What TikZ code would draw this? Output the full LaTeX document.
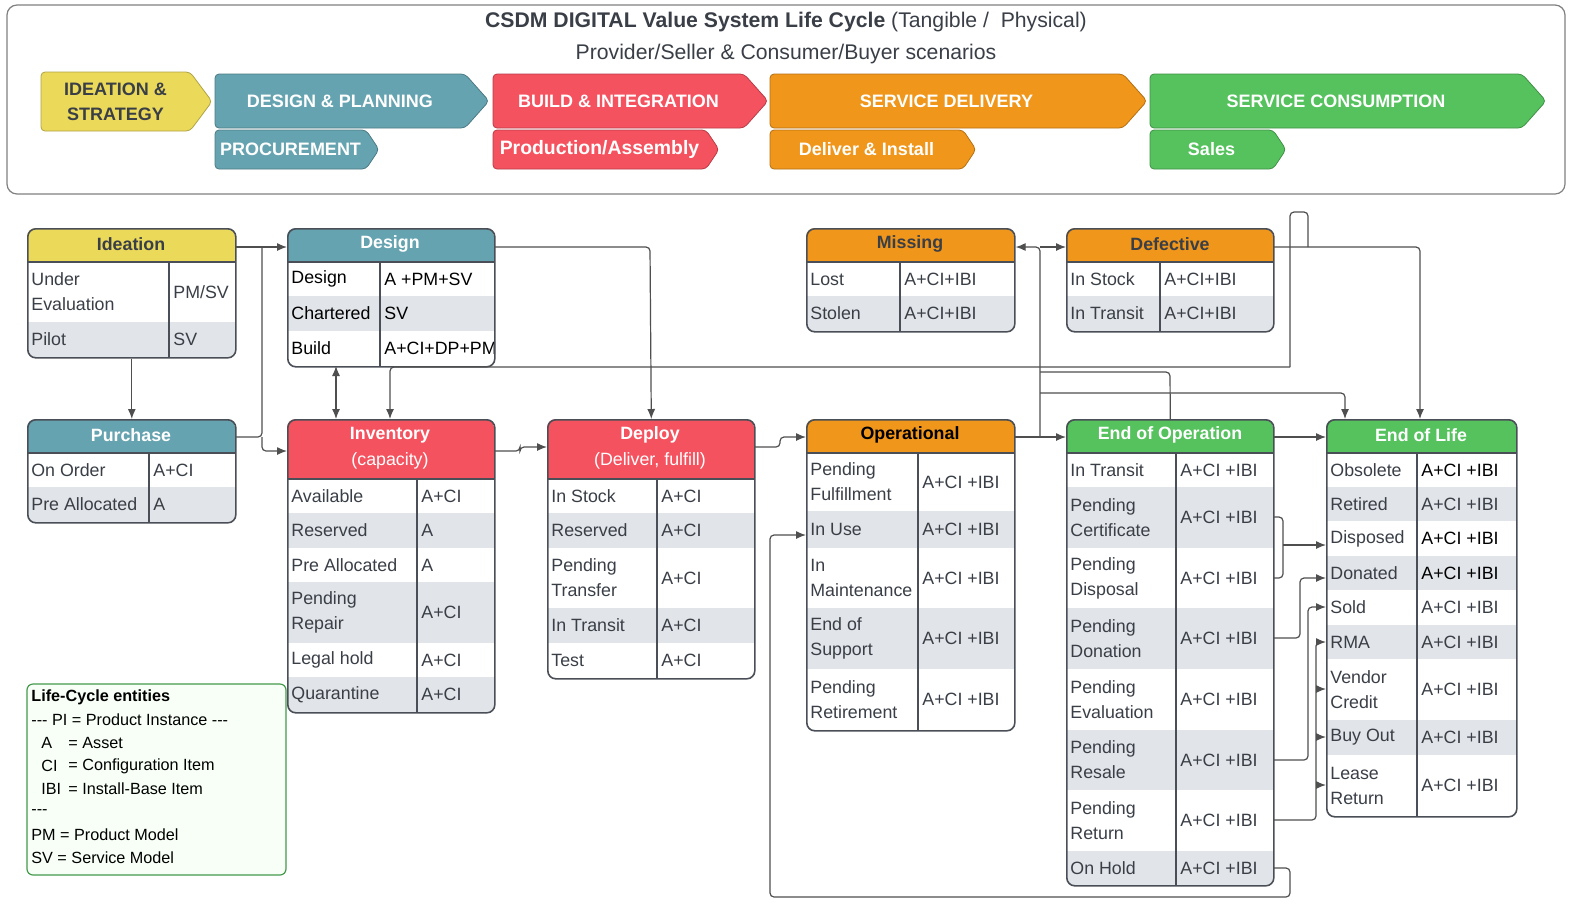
\documentclass[tikz,border=0pt]{standalone}
\usepackage{fontspec}
\setmainfont{Liberation Sans}
\usetikzlibrary{arrows.meta}
\definecolor{yel}{HTML}{EBD95A}
\definecolor{teal}{HTML}{66A3B0}
\definecolor{redc}{HTML}{F5525F}
\definecolor{orc}{HTML}{F0961A}
\definecolor{grn}{HTML}{55C25E}
\definecolor{rowg}{HTML}{E1E4E8}
\definecolor{frm}{HTML}{4A4F57}
\definecolor{txt}{HTML}{3A3F47}
\definecolor{lnc}{HTML}{4F4F4F}
\tikzset{
 cell/.style={font=\fontsize{8.9}{12.5}\selectfont, text=txt, inner sep=0pt, align=left},
 hdr/.style={font=\fontsize{8.9}{10}\selectfont\bfseries, inner sep=0pt, align=center},
 conn/.style={draw=lnc, line width=0.6pt, rounded corners=2pt},
 arr/.style={conn, -{Latex[length=5pt,width=4pt]}},
 chevtext/.style={font=\fontsize{9}{12.5}\selectfont\bfseries, text=white, inner sep=0pt, align=center},
}
\newcommand\hdrT[5]{\fill[#5, rounded corners=4pt] (#1,#2) rectangle (#3,#4+10);}
\newcommand\rowT[8]{\fill[#8] (#1,#4) rectangle (#2,#5);
 \node[cell, anchor=west] at (#1+4,{(#4+#5)/2}) {#6};
 \node[cell, anchor=west] at (#3+4,{(#4+#5)/2}) {#7};}
\newcommand\finT[7]{
 \fill[white, even odd rule] (#2-1,#3-1) rectangle (#4+1,#5+1) [rounded corners=4pt] (#2,#3) rectangle (#4,#5);
 \draw[frm, line width=0.7pt] (#2,#6) -- (#4,#6);
 \draw[frm, line width=0.7pt] (#7,#6) -- (#7,#5);
 \node[draw=frm, line width=0.8pt, rounded corners=4pt, inner sep=0pt, anchor=north west,
   minimum width={(#4-#2)*0.5pt}, minimum height={(#5-#3)*0.5pt}] (#1) at (#2,#3) {};}
\newcommand\chev[9]{
 \fill[#7, draw=#7!75!black, line width=0.4pt, rounded corners=2pt] (#2,#3) -- (#4-#6,#3) -- (#4,{(#3+#5)/2}) -- (#4-#6,#5) -- (#2,#5) -- cycle;
 \node[chevtext, text=#9] (#1) at ({(#2+#4-#6)/2},{(#3+#5)/2}) {#8};}
\begin{document}
\begin{tikzpicture}[x=0.5pt,y=-0.5pt]
\useasboundingbox (0,0) rectangle (1592,918);
\fill[white] (0,0) rectangle (1592,918);
% top panel
\draw[gray, line width=0.6pt, rounded corners=5pt] (7,5) rectangle (1565,194);
\node[font=\fontsize{10.6}{12}\selectfont, text=txt] (title) at (786,22) {\textbf{CSDM DIGITAL Value System Life Cycle} (Tangible /~~Physical)};
\node[font=\fontsize{10.6}{12}\selectfont, text=txt] (sub) at (786,54) {Provider/Seller \& Consumer/Buyer scenarios};
\chev{c1}{41}{72}{212}{131}{22}{yel}{IDEATION \&\\STRATEGY}{txt}
\chev{c2}{215}{74}{489}{128}{24}{teal}{DESIGN \& PLANNING}{white}
\chev{c3}{215}{130}{379}{169}{13}{teal}{PROCUREMENT}{white}
\chev{c4}{493}{74}{768}{128}{24}{redc}{BUILD \& INTEGRATION}{white}
\chev{c5}{493}{130}{719}{169}{13}{redc}{\fontsize{9.7}{12}\selectfont Production/Assembly}{white}
\chev{c6}{770}{74}{1147}{128}{24}{orc}{SERVICE DELIVERY}{white}
\chev{c7}{770}{130}{976}{169}{13}{orc}{Deliver \& Install}{white}
\chev{c8}{1150}{74}{1546}{128}{24}{grn}{SERVICE CONSUMPTION}{white}
\chev{c9}{1150}{130}{1286}{169}{13}{grn}{Sales}{white}

% Ideation
\hdrT{27}{228}{235}{262}{yel}
\rowT{27}{235}{169}{262}{322}{Under\\Evaluation}{PM/SV}{white}
\rowT{27}{235}{169}{322}{357}{Pilot}{SV}{rowg}
\finT{ideation}{27}{228}{235}{357}{262}{169}
\node[hdr, text=txt] at (131,244) {Ideation};
% Design
\hdrT{287}{228}{494}{262}{teal}
\rowT{287}{494}{380}{262}{296}{\color{black}Design}{\color{black}A +PM+SV}{white}
\rowT{287}{494}{380}{296}{331}{\color{black}Chartered}{\color{black}SV}{rowg}
\rowT{287}{494}{380}{331}{366}{\color{black}Build}{\color{black}A+CI+DP+PM}{white}
\finT{design}{287}{228}{494}{366}{262}{380}
\node[hdr, text=white] at (390,244) {Design};
% Purchase
\hdrT{27}{419}{235}{453}{teal}
\rowT{27}{235}{149}{453}{487}{On Order}{A+CI}{white}
\rowT{27}{235}{149}{487}{522}{Pre Allocated}{A}{rowg}
\finT{purchase}{27}{419}{235}{522}{453}{149}
\node[hdr, text=white] at (131,435) {Purchase};
% Inventory
\hdrT{287}{419}{494}{479}{redc}
\rowT{287}{494}{417}{479}{513}{Available}{A+CI}{white}
\rowT{287}{494}{417}{513}{548}{Reserved}{A}{rowg}
\rowT{287}{494}{417}{548}{582}{Pre Allocated}{A}{white}
\rowT{287}{494}{417}{582}{643}{Pending\\Repair}{A+CI}{rowg}
\rowT{287}{494}{417}{643}{677}{Legal hold}{A+CI}{white}
\rowT{287}{494}{417}{677}{712}{Quarantine}{A+CI}{rowg}
\finT{inventory}{287}{419}{494}{712}{479}{417}
\node[hdr, text=white] at (390,435) {Inventory};
\node[cell, text=white] at (390,461) {(capacity)};
% Deploy
\hdrT{547}{419}{754}{479}{redc}
\rowT{547}{754}{657}{479}{513}{In Stock}{A+CI}{white}
\rowT{547}{754}{657}{513}{548}{Reserved}{A+CI}{rowg}
\rowT{547}{754}{657}{548}{608}{Pending\\Transfer}{A+CI}{white}
\rowT{547}{754}{657}{608}{643}{In Transit}{A+CI}{rowg}
\rowT{547}{754}{657}{643}{678}{Test}{A+CI}{white}
\finT{deploy}{547}{419}{754}{678}{479}{657}
\node[hdr, text=white] at (650,435) {Deploy};
\node[cell, text=white] at (650,461) {(Deliver, fulfill)};
% Missing
\hdrT{806}{228}{1014}{262}{orc}
\rowT{806}{1014}{900}{262}{296}{Lost}{A+CI+IBI}{white}
\rowT{806}{1014}{900}{296}{331}{Stolen}{A+CI+IBI}{rowg}
\finT{missing}{806}{228}{1014}{331}{262}{900}
\node[hdr, text=txt] at (910,244) {Missing};
% Defective
\hdrT{1066}{228}{1273}{262}{orc}
\rowT{1066}{1273}{1160}{262}{296}{In Stock}{A+CI+IBI}{white}
\rowT{1066}{1273}{1160}{296}{331}{In Transit}{A+CI+IBI}{rowg}
\finT{defective}{1066}{228}{1273}{331}{262}{1160}
\node[hdr, text=txt] at (1170,244) {Defective};
% Operational
\hdrT{806}{419}{1014}{453}{orc}
\rowT{806}{1014}{918}{453}{511}{Pending\\Fulfillment}{A+CI +IBI}{white}
\rowT{806}{1014}{918}{511}{548}{In Use}{A+CI +IBI}{rowg}
\rowT{806}{1014}{918}{548}{608}{In\\Maintenance}{A+CI +IBI}{white}
\rowT{806}{1014}{918}{608}{669}{End of\\Support}{A+CI +IBI}{rowg}
\rowT{806}{1014}{918}{669}{730}{Pending\\Retirement}{A+CI +IBI}{white}
\finT{operational}{806}{419}{1014}{730}{453}{918}
\node[hdr, text=black] at (910,435) {Operational};
% End of Operation
\hdrT{1066}{419}{1273}{453}{grn}
\rowT{1066}{1273}{1176}{453}{487}{In Transit}{A+CI +IBI}{white}
\rowT{1066}{1273}{1176}{487}{548}{Pending\\Certificate}{A+CI +IBI}{rowg}
\rowT{1066}{1273}{1176}{548}{608}{Pending\\Disposal}{A+CI +IBI}{white}
\rowT{1066}{1273}{1176}{608}{669}{Pending\\Donation}{A+CI +IBI}{rowg}
\rowT{1066}{1273}{1176}{669}{730}{Pending\\Evaluation}{A+CI +IBI}{white}
\rowT{1066}{1273}{1176}{730}{790}{Pending\\Resale}{A+CI +IBI}{rowg}
\rowT{1066}{1273}{1176}{790}{851}{Pending\\Return}{A+CI +IBI}{white}
\rowT{1066}{1273}{1176}{851}{885}{On Hold}{A+CI +IBI}{rowg}
\finT{eoo}{1066}{419}{1273}{885}{453}{1176}
\node[hdr, text=white] at (1170,435) {End of Operation};
% End of Life
\hdrT{1326}{419}{1516}{453}{grn}
\rowT{1326}{1516}{1417}{453}{487}{Obsolete}{\color{black}A+CI +IBI}{white}
\rowT{1326}{1516}{1417}{487}{521}{Retired}{A+CI +IBI}{rowg}
\rowT{1326}{1516}{1417}{521}{556}{Disposed}{\color{black}A+CI +IBI}{white}
\rowT{1326}{1516}{1417}{556}{590}{Donated}{\color{black}A+CI +IBI}{rowg}
\rowT{1326}{1516}{1417}{590}{625}{Sold}{A+CI +IBI}{white}
\rowT{1326}{1516}{1417}{625}{659}{RMA}{A+CI +IBI}{rowg}
\rowT{1326}{1516}{1417}{659}{720}{Vendor\\Credit}{A+CI +IBI}{white}
\rowT{1326}{1516}{1417}{720}{755}{Buy Out}{A+CI +IBI}{rowg}
\rowT{1326}{1516}{1417}{755}{816}{Lease\\Return}{A+CI +IBI}{white}
\finT{eol}{1326}{419}{1516}{816}{453}{1417}
\node[hdr, text=white] at (1421,435) {End of Life};

% Legend
\draw[draw=grn!80!black, fill=green!3, line width=0.6pt, rounded corners=3pt] (27,684) rectangle (286,875);
\begin{scope}[every node/.style={font=\fontsize{8.1}{9}\selectfont, text=black, inner sep=0pt, anchor=west}]
\node (lg1) at (31,697) {\textbf{Life-Cycle entities}};
\node (lg2) at (31,720) {-{}-{}- PI = Product Instance -{}-{}-};
\node (lg3) at (41,743) {A}; \node at (68,743) {= Asset};
\node (lg4) at (41,766) {CI}; \node at (68,766) {= Configuration Item};
\node (lg5) at (41,789) {IBI}; \node at (68,789) {= Install-Base Item};
\node (lg6) at (31,812) {-{}-{}-};
\node (lg7) at (31,835) {PM = Product Model};
\node (lg8) at (31,858) {SV = Service Model};
\end{scope}

% Connectors
\draw[arr] (ideation.south) -- (purchase.north);
\draw[arr] (235,247) -- (262,247) -- (design.west |- 0,247);
\draw[conn] (235,437) -- (262,437) -- (262,247);
\draw[arr] (262,437) -- (262,451) -- (inventory.west |- 0,451);
\draw[conn, {Latex[length=5pt,width=4pt]}-{Latex[length=5pt,width=4pt]}] (336,366) -- (336,419);
\draw[conn] (1290,367) -- (1290,212) -- (1308,212) -- (1308,247);
\draw[arr] (1290,367) -- (390,367) -- (inventory.north -| 390,0);
\draw[arr] (494,247) -- (650,247) -- (deploy.north);
\draw[arr] (494,451) -- (520,451) -- (520,447) -- (deploy.west |- 0,447);
\draw[arr] (754,447) -- (780,447) -- (780,437) -- (operational.west |- 0,437);
\draw[arr] (1014,437) -- (1040,437) -- (eoo.west |- 0,437);
\draw[arr] (1040,437) -- (1040,247) -- (missing.east |- 0,247);
\draw[arr] (1040,247) -- (defective.west |- 0,247);
\draw[conn] (eoo.north) -- (1170,372) -- (1040,372);
\draw[arr] (1040,393) -- (1345,393) -- (eol.north -| 1345,0);
\draw[arr] (1273,247) -- (1420,247) -- (eol.north -| 1420,0);
\draw[arr] (1273,437) -- (eol.west |- 0,437);
\draw[conn] (1273,517) -- (1283,517) -- (1283,578) -- (1273,578);
\draw[arr] (1283,545) -- (1326,545);
\draw[arr] (1273,638) -- (1300,638) -- (1300,578) -- (1326,578);
\draw[arr] (1273,760) -- (1308,760) -- (1308,607) -- (1326,607);
\draw[arr] (1273,820) -- (1316,820) -- (1316,642) -- (1326,642);
\draw[arr] (1316,689) -- (1326,689);
\draw[arr] (1316,737) -- (1326,737);
\draw[arr] (1316,785) -- (1326,785);
\draw[arr] (1273,868) -- (1290,868) -- (1290,897) -- (770,897) -- (770,535) -- (operational.west |- 0,535);
\end{tikzpicture}
\end{document}
